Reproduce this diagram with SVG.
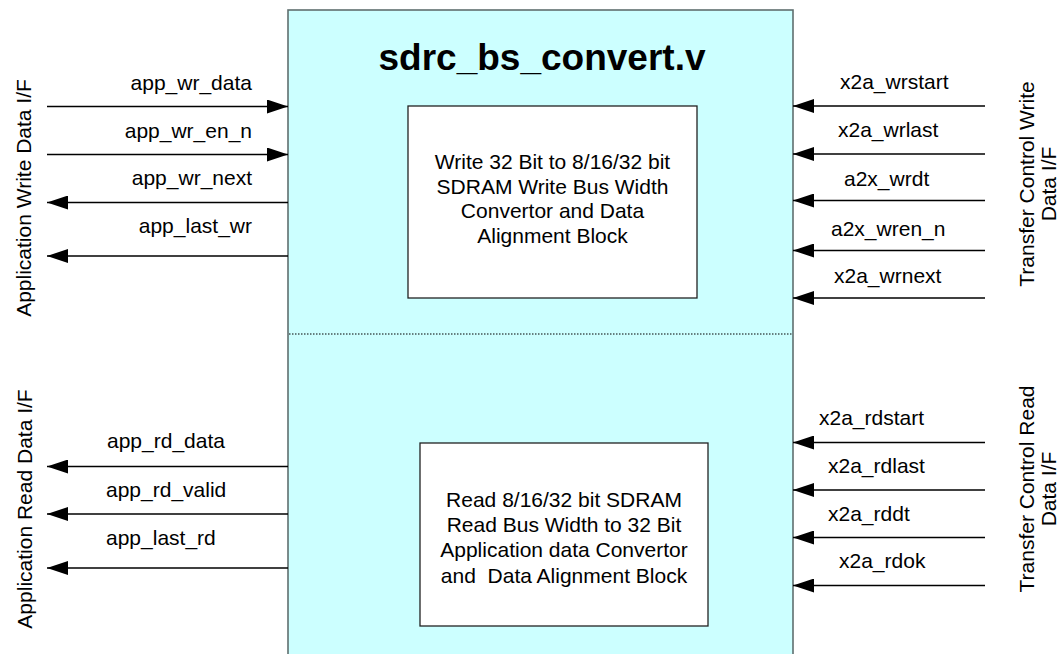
<svg xmlns="http://www.w3.org/2000/svg" width="1058" height="654" viewBox="0 0 1058 654">
<defs>
<style>
text{font-family:"Liberation Sans",Arial,sans-serif;font-size:21px;fill:#000}
.title{font-size:37px;font-weight:bold}
.mid{text-anchor:middle}
.end{text-anchor:end}
.sig{stroke:#000;stroke-width:1.3;fill:none;marker-end:url(#ah)}
.box{fill:#fff;stroke:#222;stroke-width:1.3}
</style>
<marker id="ah" markerUnits="userSpaceOnUse" markerWidth="22" markerHeight="14" refX="21" refY="7" orient="auto">
<path d="M0,0 L21,7 L0,14 z" fill="#000"/>
</marker>
</defs>
<rect width="1058" height="654" fill="#fff"/>
<g id="sdrc_bs_convert">
<rect x="288" y="10" width="505" height="660" fill="#CCFFFF" stroke="#5f6f6f" stroke-width="1.6"/>
<text class="title mid" x="542" y="70">sdrc_bs_convert.v</text>
<line x1="289" y1="334" x2="792" y2="334" stroke="#000" stroke-width="1" stroke-dasharray="1.5,1.5"/>
</g>
<g id="write_block">
<rect class="box" x="408" y="106" width="289" height="192"/>
<text class="mid" x="552.5" y="169">Write 32 Bit to 8/16/32 bit</text>
<text class="mid" x="552.5" y="193.5">SDRAM Write Bus Width</text>
<text class="mid" x="552.5" y="218">Convertor and  Data</text>
<text class="mid" x="552.5" y="242.5">Alignment Block</text>
</g>
<g id="read_block">
<rect class="box" x="420" y="443" width="288" height="183"/>
<text class="mid" x="564" y="507" xml:space="preserve">Read 8/16/32 bit SDRAM</text>
<text class="mid" x="564" y="532">Read Bus Width to 32 Bit</text>
<text class="mid" x="564" y="557">Application data Convertor</text>
<text class="mid" x="564" y="582.5" xml:space="preserve">and  Data Alignment Block</text>
</g>
<g id="app_write_if">
<text class="mid" transform="translate(31,198) rotate(-90)">Application Write Data I/F</text>
</g>
<g id="app_read_if">
<text class="mid" transform="translate(32,509) rotate(-90)">Application Read Data I/F</text>
</g>
<g id="xfer_write_if">
<text class="mid" transform="translate(1034,184) rotate(-90)">Transfer Control Write</text>
<text class="mid" transform="translate(1056,184) rotate(-90)">Data I/F</text>
</g>
<g id="xfer_read_if">
<text class="mid" transform="translate(1034,489) rotate(-90)">Transfer Control Read</text>
<text class="mid" transform="translate(1056,489) rotate(-90)">Data I/F</text>
</g>
<g id="connectors">
<line class="sig" x1="47" y1="106.5" x2="288" y2="106.5"/>
<line class="sig" x1="47" y1="154.5" x2="288" y2="154.5"/>
<line class="sig" x1="288" y1="202.5" x2="47" y2="202.5"/>
<line class="sig" x1="288" y1="256" x2="47" y2="256"/>
<line class="sig" x1="288" y1="466.5" x2="47" y2="466.5"/>
<line class="sig" x1="288" y1="514" x2="47" y2="514"/>
<line class="sig" x1="288" y1="568" x2="47" y2="568"/>
<line class="sig" x1="985" y1="106" x2="793" y2="106"/>
<line class="sig" x1="985" y1="154" x2="793" y2="154"/>
<line class="sig" x1="985" y1="200.5" x2="793" y2="200.5"/>
<line class="sig" x1="985" y1="250.5" x2="793" y2="250.5"/>
<line class="sig" x1="985" y1="298" x2="793" y2="298"/>
<line class="sig" x1="985" y1="442.5" x2="793" y2="442.5"/>
<line class="sig" x1="985" y1="490" x2="793" y2="490"/>
<line class="sig" x1="985" y1="537.5" x2="793" y2="537.5"/>
<line class="sig" x1="985" y1="585.5" x2="793" y2="585.5"/>
<text class="end" x="252" y="90">app_wr_data</text>
<text class="end" x="252" y="137.5">app_wr_en_n</text>
<text class="end" x="252" y="185">app_wr_next</text>
<text class="end" x="252" y="233">app_last_wr</text>
<text x="107" y="448">app_rd_data</text>
<text x="106" y="497">app_rd_valid</text>
<text x="106" y="545">app_last_rd</text>
<text x="840" y="88.5">x2a_wrstart</text>
<text x="838" y="137">x2a_wrlast</text>
<text x="844" y="186">a2x_wrdt</text>
<text x="831" y="236">a2x_wren_n</text>
<text x="834" y="283">x2a_wrnext</text>
<text x="819" y="425">x2a_rdstart</text>
<text x="828" y="473">x2a_rdlast</text>
<text x="828" y="521">x2a_rddt</text>
<text x="839" y="568">x2a_rdok</text>
</g>
</svg>
